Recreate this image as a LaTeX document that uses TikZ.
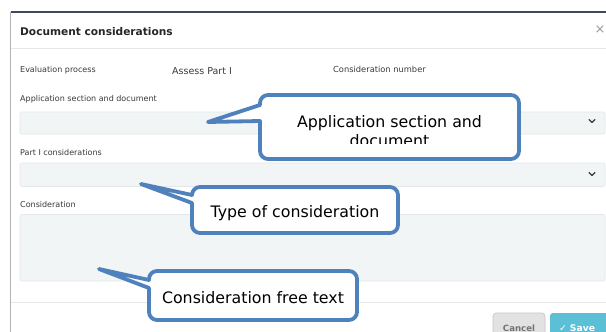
\documentclass[tikz,border=0pt]{standalone}
\usepackage{fontspec}
\setmainfont{DejaVu Sans}
\definecolor{cblue}{HTML}{4F81BD}
\definecolor{fieldfill}{HTML}{F2F5F6}
\definecolor{fieldline}{HTML}{E2E7E9}
\definecolor{labeltext}{HTML}{3A3A3A}
\definecolor{sepline}{HTML}{E6E6E6}
\definecolor{topline}{HTML}{3B4A5E}
\definecolor{leftline}{HTML}{B4B4B4}
\definecolor{savebg}{HTML}{5BBFD5}
\definecolor{cancelbg}{HTML}{E2E2E2}
\definecolor{cancelline}{HTML}{C6C6C6}
\newcommand\mybubble[7]{%
  \filldraw[callout] (#7) -- (#1,#6) -- (#1,#4-8)
    arc[start angle=180,end angle=90,radius=8] -- (#3-8,#4)
    arc[start angle=90,end angle=0,radius=8] -- (#3,#2+8)
    arc[start angle=0,end angle=-90,radius=8] -- (#1+8,#2)
    arc[start angle=-90,end angle=-180,radius=8] -- (#1,#5) -- cycle;}
\tikzset{
  callout/.style={draw=cblue, fill=white, line width=3.8pt, line join=round},
  calltext/.style={font=\fontsize{15.8}{18.5}\selectfont, text=black, inner sep=0pt, anchor=base},
  lbl/.style={font=\fontsize{8}{9.6}\selectfont, text=labeltext, inner sep=0pt, anchor=base west},
  field/.style={fill=fieldfill, draw=fieldline, line width=0.6pt, rounded corners=2pt},
  sep/.style={draw=sepline, line width=0.8pt},
  chev/.style={draw=labeltext, line width=1.3pt, line cap=round, line join=round},
}
\begin{document}
\begin{tikzpicture}[x=1pt,y=-1pt]
\useasboundingbox (0,0) rectangle (606,332);
\fill[white] (0,0) rectangle (606,332);
% dialog frame
\coordinate (tl) at (10.5,12);
\coordinate (tr) at (606,12);
\coordinate (bl) at (10.5,332);
\draw[leftline, line width=1pt] (tl) -- (bl);
\draw[topline, line width=1.3pt] (tl) -- (tr);
% title
\node[font=\fontsize{10.6}{12}\selectfont\bfseries, text=black!85, inner sep=0pt, anchor=base west] (title) at (20,35) {Document considerations};
\node[font=\fontsize{13}{13}\selectfont, text=black!40, inner sep=0pt] (close) at (600,30) {×};
\coordinate (s1a) at (11,48.5); \coordinate (s1b) at (606,48.5);
\draw[sep] (s1a) -- (s1b);
% labels
\node[lbl] (evp) at (20,72) {Evaluation process};
\node[lbl, font=\fontsize{9.5}{11}\selectfont] (assess) at (172,74.5) {Assess Part I};
\node[lbl, font=\fontsize{8.3}{10}\selectfont] (cnum) at (333,72) {Consideration number};
\node[lbl] (appl) at (20,101) {Application section and document};
\node[lbl] (part) at (20,155) {Part I considerations};
\node[lbl] (cons) at (20,207) {Consideration};
% fields
\path[field] (20,112) rectangle (605,134);
\path[field] (20,163) rectangle (605,186.5);
\path[field] (20,214.5) rectangle (605,281);
\draw[chev] (589,119.5) -- (592,122.5) -- (595,119.5);
\draw[chev] (589,172.5) -- (592,175.5) -- (595,172.5);
% footer
\coordinate (s2a) at (11,302.5); \coordinate (s2b) at (606,302.5);
\draw[sep] (s2a) -- (s2b);
\filldraw[fill=cancelbg, draw=cancelline, line width=0.6pt, rounded corners=3pt] (493,313) rectangle (545,342);
\node[font=\fontsize{8.6}{10}\selectfont\bfseries, text=black!55, inner sep=0pt, anchor=base] (cancel) at (519,331) {Cancel};
\fill[savebg, rounded corners=3pt] (550,313) rectangle (614,342);
\node[font=\fontsize{9.2}{10}\selectfont\bfseries, text=white, inner sep=0pt, anchor=base] (save) at (577,331) {✓ Save};
% callouts
\coordinate (tip1) at (208,122);
\coordinate (tip2) at (141,184);
\coordinate (tip3) at (99,269);
\mybubble{260}{95}{519}{159}{105}{121}{tip1}
\begin{scope}
\clip (262,97) rectangle (517,143);
\node[calltext, align=center] (t1) at (389.5,146) {Application section and\\document};
\end{scope}
\mybubble{192}{187}{398}{233}{195}{203}{tip2}
\node[calltext] (t2) at (295,217.3) {Type of consideration};
\mybubble{149}{271}{357}{320}{280}{288}{tip3}
\node[calltext] (t3) at (253,303) {Consideration free text};
\end{tikzpicture}
\end{document}
